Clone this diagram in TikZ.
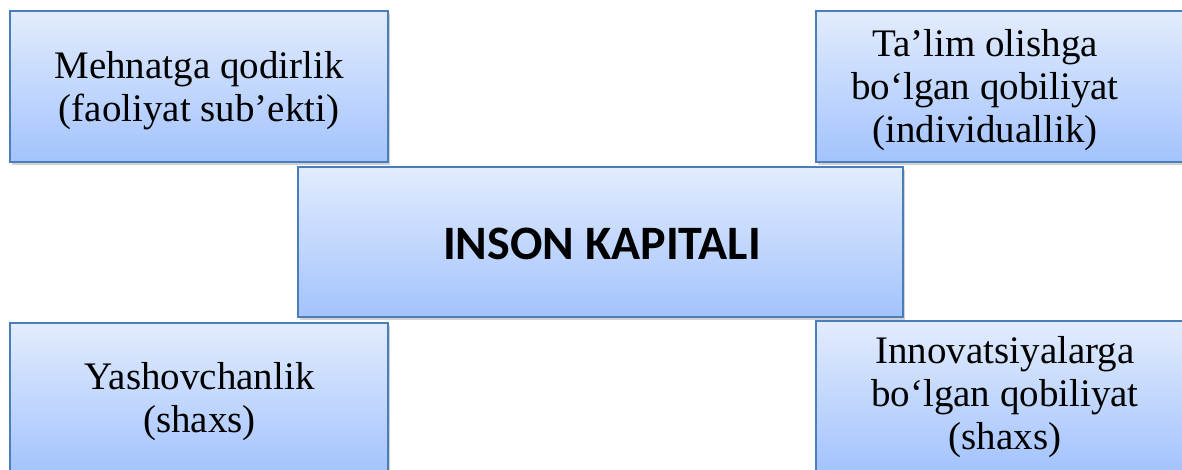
\documentclass[tikz,border=0pt]{standalone}
\usepackage{fontspec}
\setmainfont{Liberation Serif}
\newfontfamily\carlito{Carlito}
\usetikzlibrary{shadows}
\definecolor{boxborder}{HTML}{4A7EBB}
\definecolor{boxtop}{HTML}{E2ECFD}
\definecolor{boxbottom}{HTML}{A3C3FD}
\tikzset{
  panel/.style={draw=boxborder, line width=2pt, top color=boxtop, bottom color=boxbottom,
    inner sep=0pt, outer sep=0pt,
    drop shadow={shadow xshift=2pt, shadow yshift=-3pt, opacity=0.25, fill=black!70}},
  paneltext/.style={align=center, inner sep=0pt, font=\fontsize{39}{43}\selectfont},
  titletext/.style={inner sep=0pt, anchor=base, font=\carlito\bfseries\fontsize{48}{56}\selectfont}
}
\begin{document}
\begin{tikzpicture}[x=1pt, y=-1pt]
\useasboundingbox (0,0) rectangle (1182,469);
\clip (0,0) rectangle (1182,469);
\node[panel, minimum width=378pt, minimum height=151pt] (tl) at (199,86.5) {};
\node[panel, minimum width=384pt, minimum height=151pt] (tr) at (1008,86.5) {};
\node[panel, minimum width=605pt, minimum height=150pt] (c) at (600.5,242) {};
\node[panel, minimum width=378pt, minimum height=151pt] (bl) at (199,398.5) {};
\node[panel, minimum width=384pt, minimum height=151pt] (br) at (1008,396.5) {};
\node[paneltext] (tltext) at (199,90.7) {Mehnatga qodirlik\\(faoliyat sub’ekti)};
\node[paneltext] (trtext) at (985,89.7) {Ta’lim olishga\\bo‘lgan qobiliyat\\(individuallik)};
\node[titletext] (ctext) at (602,259) {INSON KAPITALI};
\node[paneltext] (bltext) at (199.5,402) {Yashovchanlik\\(shaxs)};
\node[paneltext] (brtext) at (1005,397.6) {Innovatsiyalarga\\bo‘lgan qobiliyat\\(shaxs)};
\end{tikzpicture}
\end{document}
